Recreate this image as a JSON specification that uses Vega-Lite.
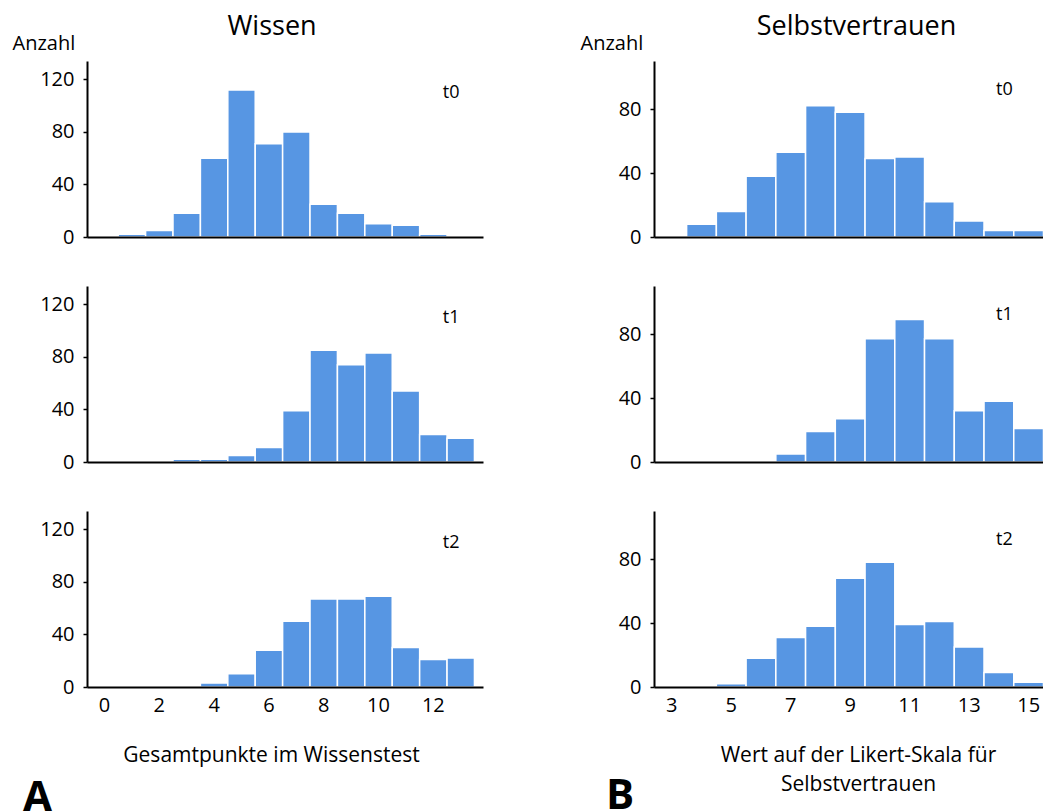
{
  "$schema": "https://vega.github.io/schema/vega-lite/v6.json",
  "autosize": {"type": "pad"},
  "padding": {"left": 12, "top": 13, "right": 0, "bottom": 0},
  "background": "white",
  "config": {
    "font": "Open Sans",
    "view": {"stroke": null},
    "axis": {"domainColor": "black", "domainWidth": 2, "labelColor": "black", "labelFontSize": 20, "labelFont": "Open Sans", "grid": false, "tickColor": "black", "tickWidth": 1.5, "zindex": 1, "titleColor": "black", "titleFont": "Open Sans", "titleFontWeight": "normal"},
    "title": {"font": "Open Sans", "fontWeight": "normal", "color": "black"},
    "text": {"font": "Open Sans", "color": "black"}
  },
  "datasets": {
    "hist": [
      {"var": "Wissen", "zeit": "t0", "wert": 1, "anzahl": 2},
      {"var": "Wissen", "zeit": "t0", "wert": 2, "anzahl": 5},
      {"var": "Wissen", "zeit": "t0", "wert": 3, "anzahl": 18},
      {"var": "Wissen", "zeit": "t0", "wert": 4, "anzahl": 60},
      {"var": "Wissen", "zeit": "t0", "wert": 5, "anzahl": 112},
      {"var": "Wissen", "zeit": "t0", "wert": 6, "anzahl": 71},
      {"var": "Wissen", "zeit": "t0", "wert": 7, "anzahl": 80},
      {"var": "Wissen", "zeit": "t0", "wert": 8, "anzahl": 25},
      {"var": "Wissen", "zeit": "t0", "wert": 9, "anzahl": 18},
      {"var": "Wissen", "zeit": "t0", "wert": 10, "anzahl": 10},
      {"var": "Wissen", "zeit": "t0", "wert": 11, "anzahl": 9},
      {"var": "Wissen", "zeit": "t0", "wert": 12, "anzahl": 2},
      {"var": "Wissen", "zeit": "t1", "wert": 3, "anzahl": 2},
      {"var": "Wissen", "zeit": "t1", "wert": 4, "anzahl": 2},
      {"var": "Wissen", "zeit": "t1", "wert": 5, "anzahl": 5},
      {"var": "Wissen", "zeit": "t1", "wert": 6, "anzahl": 11},
      {"var": "Wissen", "zeit": "t1", "wert": 7, "anzahl": 39},
      {"var": "Wissen", "zeit": "t1", "wert": 8, "anzahl": 85},
      {"var": "Wissen", "zeit": "t1", "wert": 9, "anzahl": 74},
      {"var": "Wissen", "zeit": "t1", "wert": 10, "anzahl": 83},
      {"var": "Wissen", "zeit": "t1", "wert": 11, "anzahl": 54},
      {"var": "Wissen", "zeit": "t1", "wert": 12, "anzahl": 21},
      {"var": "Wissen", "zeit": "t1", "wert": 13, "anzahl": 18},
      {"var": "Wissen", "zeit": "t2", "wert": 4, "anzahl": 3},
      {"var": "Wissen", "zeit": "t2", "wert": 5, "anzahl": 10},
      {"var": "Wissen", "zeit": "t2", "wert": 6, "anzahl": 28},
      {"var": "Wissen", "zeit": "t2", "wert": 7, "anzahl": 50},
      {"var": "Wissen", "zeit": "t2", "wert": 8, "anzahl": 67},
      {"var": "Wissen", "zeit": "t2", "wert": 9, "anzahl": 67},
      {"var": "Wissen", "zeit": "t2", "wert": 10, "anzahl": 69},
      {"var": "Wissen", "zeit": "t2", "wert": 11, "anzahl": 30},
      {"var": "Wissen", "zeit": "t2", "wert": 12, "anzahl": 21},
      {"var": "Wissen", "zeit": "t2", "wert": 13, "anzahl": 22},
      {"var": "Selbstvertrauen", "zeit": "t0", "wert": 4, "anzahl": 8},
      {"var": "Selbstvertrauen", "zeit": "t0", "wert": 5, "anzahl": 16},
      {"var": "Selbstvertrauen", "zeit": "t0", "wert": 6, "anzahl": 38},
      {"var": "Selbstvertrauen", "zeit": "t0", "wert": 7, "anzahl": 53},
      {"var": "Selbstvertrauen", "zeit": "t0", "wert": 8, "anzahl": 82},
      {"var": "Selbstvertrauen", "zeit": "t0", "wert": 9, "anzahl": 78},
      {"var": "Selbstvertrauen", "zeit": "t0", "wert": 10, "anzahl": 49},
      {"var": "Selbstvertrauen", "zeit": "t0", "wert": 11, "anzahl": 50},
      {"var": "Selbstvertrauen", "zeit": "t0", "wert": 12, "anzahl": 22},
      {"var": "Selbstvertrauen", "zeit": "t0", "wert": 13, "anzahl": 10},
      {"var": "Selbstvertrauen", "zeit": "t0", "wert": 14, "anzahl": 4},
      {"var": "Selbstvertrauen", "zeit": "t0", "wert": 15, "anzahl": 4},
      {"var": "Selbstvertrauen", "zeit": "t1", "wert": 3, "anzahl": 1},
      {"var": "Selbstvertrauen", "zeit": "t1", "wert": 6, "anzahl": 1},
      {"var": "Selbstvertrauen", "zeit": "t1", "wert": 7, "anzahl": 5},
      {"var": "Selbstvertrauen", "zeit": "t1", "wert": 8, "anzahl": 19},
      {"var": "Selbstvertrauen", "zeit": "t1", "wert": 9, "anzahl": 27},
      {"var": "Selbstvertrauen", "zeit": "t1", "wert": 10, "anzahl": 77},
      {"var": "Selbstvertrauen", "zeit": "t1", "wert": 11, "anzahl": 89},
      {"var": "Selbstvertrauen", "zeit": "t1", "wert": 12, "anzahl": 77},
      {"var": "Selbstvertrauen", "zeit": "t1", "wert": 13, "anzahl": 32},
      {"var": "Selbstvertrauen", "zeit": "t1", "wert": 14, "anzahl": 38},
      {"var": "Selbstvertrauen", "zeit": "t1", "wert": 15, "anzahl": 21},
      {"var": "Selbstvertrauen", "zeit": "t2", "wert": 3, "anzahl": 1},
      {"var": "Selbstvertrauen", "zeit": "t2", "wert": 4, "anzahl": 1},
      {"var": "Selbstvertrauen", "zeit": "t2", "wert": 5, "anzahl": 2},
      {"var": "Selbstvertrauen", "zeit": "t2", "wert": 6, "anzahl": 18},
      {"var": "Selbstvertrauen", "zeit": "t2", "wert": 7, "anzahl": 31},
      {"var": "Selbstvertrauen", "zeit": "t2", "wert": 8, "anzahl": 38},
      {"var": "Selbstvertrauen", "zeit": "t2", "wert": 9, "anzahl": 68},
      {"var": "Selbstvertrauen", "zeit": "t2", "wert": 10, "anzahl": 78},
      {"var": "Selbstvertrauen", "zeit": "t2", "wert": 11, "anzahl": 39},
      {"var": "Selbstvertrauen", "zeit": "t2", "wert": 12, "anzahl": 41},
      {"var": "Selbstvertrauen", "zeit": "t2", "wert": 13, "anzahl": 25},
      {"var": "Selbstvertrauen", "zeit": "t2", "wert": 14, "anzahl": 9},
      {"var": "Selbstvertrauen", "zeit": "t2", "wert": 15, "anzahl": 3}
    ]
  },
  "columns": 2,
  "spacing": {"row": 49, "column": 171},
  "bounds": "flush",
  "concat": [
    {
      "width": 396, "height": 176,
      "title": {"text": "Wissen", "fontSize": 27, "anchor": "middle", "frame": "group", "baseline": "alphabetic", "dx": -13, "dy": 33},
      "layer": [
        {
          "data": {"name": "hist"},
          "transform": [{"filter": "datum.var === 'Wissen' && datum.zeit === 't0'"}],
          "mark": {"type": "bar", "binSpacing": 0, "fill": "#5796e3", "stroke": "#ffffff", "strokeWidth": 1.5},
          "encoding": {
            "x": {"field": "wert", "type": "quantitative", "bin": {"step": 1, "anchor": 0.5, "extent": [-0.5, 13.5], "nice": false}, "scale": {"domain": [-0.62, 13.83], "nice": false, "zero": false}, "axis": {"labels": false, "ticks": false, "title": null, "zindex": 2}},
            "y": {"field": "anzahl", "type": "quantitative", "scale": {"domain": [0, 134], "nice": false}, "axis": {"values": [0, 40, 80, 120], "tickSize": 4, "labelPadding": 9, "zindex": 2, "title": "Anzahl", "titleAngle": 0, "titleAlign": "left", "titleBaseline": "alphabetic", "titleX": -75, "titleY": -12, "titleFontSize": 20}}
          }
        },
        {
          "data": {"values": [{"label": "t0"}]},
          "mark": {"type": "text", "fontSize": 18, "align": "center", "baseline": "middle"},
          "encoding": {"x": {"datum": 12.67}, "y": {"datum": 110}, "text": {"field": "label"}}
        }
      ]
    },
    {
      "width": 389, "height": 176,
      "title": {"text": "Selbstvertrauen", "fontSize": 27, "anchor": "middle", "frame": "group", "baseline": "alphabetic", "dx": 8, "dy": 33},
      "layer": [
        {
          "data": {"name": "hist"},
          "transform": [{"filter": "datum.var === 'Selbstvertrauen' && datum.zeit === 't0'"}],
          "mark": {"type": "bar", "binSpacing": 0, "fill": "#5796e3", "stroke": "#ffffff", "strokeWidth": 1.5},
          "encoding": {
            "x": {"field": "wert", "type": "quantitative", "bin": {"step": 1, "anchor": 0.5, "extent": [2.5, 15.5], "nice": false}, "scale": {"domain": [2.42, 15.5], "nice": false, "zero": false}, "axis": {"labels": false, "ticks": false, "title": null, "zindex": 2}},
            "y": {"field": "anzahl", "type": "quantitative", "scale": {"domain": [0, 110], "nice": false}, "axis": {"values": [0, 40, 80], "tickSize": 4, "labelPadding": 9, "zindex": 2, "title": "Anzahl", "titleAngle": 0, "titleAlign": "left", "titleBaseline": "alphabetic", "titleX": -74, "titleY": -12, "titleFontSize": 20}}
          }
        },
        {
          "data": {"values": [{"label": "t0"}]},
          "mark": {"type": "text", "fontSize": 18, "align": "center", "baseline": "middle"},
          "encoding": {"x": {"datum": 14.2}, "y": {"datum": 92}, "text": {"field": "label"}}
        }
      ]
    },
    {
      "width": 396, "height": 176,
      "layer": [
        {
          "data": {"name": "hist"},
          "transform": [{"filter": "datum.var === 'Wissen' && datum.zeit === 't1'"}],
          "mark": {"type": "bar", "binSpacing": 0, "fill": "#5796e3", "stroke": "#ffffff", "strokeWidth": 1.5},
          "encoding": {
            "x": {"field": "wert", "type": "quantitative", "bin": {"step": 1, "anchor": 0.5, "extent": [-0.5, 13.5], "nice": false}, "scale": {"domain": [-0.62, 13.83], "nice": false, "zero": false}, "axis": {"labels": false, "ticks": false, "title": null, "zindex": 2}},
            "y": {"field": "anzahl", "type": "quantitative", "scale": {"domain": [0, 134], "nice": false}, "axis": {"values": [0, 40, 80, 120], "tickSize": 4, "labelPadding": 9, "zindex": 2, "title": null}}
          }
        },
        {
          "data": {"values": [{"label": "t1"}]},
          "mark": {"type": "text", "fontSize": 18, "align": "center", "baseline": "middle"},
          "encoding": {"x": {"datum": 12.67}, "y": {"datum": 110}, "text": {"field": "label"}}
        }
      ]
    },
    {
      "width": 389, "height": 176,
      "layer": [
        {
          "data": {"name": "hist"},
          "transform": [{"filter": "datum.var === 'Selbstvertrauen' && datum.zeit === 't1'"}],
          "mark": {"type": "bar", "binSpacing": 0, "fill": "#5796e3", "stroke": "#ffffff", "strokeWidth": 1.5},
          "encoding": {
            "x": {"field": "wert", "type": "quantitative", "bin": {"step": 1, "anchor": 0.5, "extent": [2.5, 15.5], "nice": false}, "scale": {"domain": [2.42, 15.5], "nice": false, "zero": false}, "axis": {"labels": false, "ticks": false, "title": null, "zindex": 2}},
            "y": {"field": "anzahl", "type": "quantitative", "scale": {"domain": [0, 110], "nice": false}, "axis": {"values": [0, 40, 80], "tickSize": 4, "labelPadding": 9, "zindex": 2, "title": null}}
          }
        },
        {
          "data": {"values": [{"label": "t1"}]},
          "mark": {"type": "text", "fontSize": 18, "align": "center", "baseline": "middle"},
          "encoding": {"x": {"datum": 14.2}, "y": {"datum": 92}, "text": {"field": "label"}}
        }
      ]
    },
    {
      "width": 396, "height": 176,
      "title": {"text": "A", "orient": "bottom", "anchor": "start", "frame": "group", "fontSize": 42, "fontWeight": "bold", "baseline": "alphabetic", "dx": -64, "dy": 42},
      "layer": [
        {
          "data": {"name": "hist"},
          "transform": [{"filter": "datum.var === 'Wissen' && datum.zeit === 't2'"}],
          "mark": {"type": "bar", "binSpacing": 0, "fill": "#5796e3", "stroke": "#ffffff", "strokeWidth": 1.5},
          "encoding": {
            "x": {"field": "wert", "type": "quantitative", "bin": {"step": 1, "anchor": 0.5, "extent": [-0.5, 13.5], "nice": false}, "scale": {"domain": [-0.62, 13.83], "nice": false, "zero": false}, "axis": {"values": [0, 2, 4, 6, 8, 10, 12], "ticks": false, "zindex": 2, "labelPadding": 8, "labelFlush": false, "labelOverlap": false, "title": "Gesamtpunkte im Wissenstest", "titleFontSize": 21, "titleX": 184, "titleY": 74, "titleBaseline": "alphabetic", "titleAlign": "center", "titleAnchor": null}},
            "y": {"field": "anzahl", "type": "quantitative", "scale": {"domain": [0, 134], "nice": false}, "axis": {"values": [0, 40, 80, 120], "tickSize": 4, "labelPadding": 9, "zindex": 2, "title": null}}
          }
        },
        {
          "data": {"values": [{"label": "t2"}]},
          "mark": {"type": "text", "fontSize": 18, "align": "center", "baseline": "middle"},
          "encoding": {"x": {"datum": 12.67}, "y": {"datum": 110}, "text": {"field": "label"}}
        }
      ]
    },
    {
      "width": 389, "height": 176,
      "title": {"text": "B", "orient": "bottom", "anchor": "start", "frame": "group", "fontSize": 42, "fontWeight": "bold", "baseline": "alphabetic", "dx": -48, "dy": 11},
      "layer": [
        {
          "data": {"name": "hist"},
          "transform": [{"filter": "datum.var === 'Selbstvertrauen' && datum.zeit === 't2'"}],
          "mark": {"type": "bar", "binSpacing": 0, "fill": "#5796e3", "stroke": "#ffffff", "strokeWidth": 1.5},
          "encoding": {
            "x": {"field": "wert", "type": "quantitative", "bin": {"step": 1, "anchor": 0.5, "extent": [2.5, 15.5], "nice": false}, "scale": {"domain": [2.42, 15.5], "nice": false, "zero": false}, "axis": {"values": [3, 5, 7, 9, 11, 13, 15], "ticks": false, "zindex": 2, "labelPadding": 8, "labelFlush": false, "labelOverlap": false, "title": ["Wert auf der Likert-Skala für", "Selbstvertrauen"], "titleFontSize": 21, "titleLineHeight": 29, "titleX": 204, "titleY": 74, "titleBaseline": "alphabetic", "titleAlign": "center", "titleAnchor": null}},
            "y": {"field": "anzahl", "type": "quantitative", "scale": {"domain": [0, 110], "nice": false}, "axis": {"values": [0, 40, 80], "tickSize": 4, "labelPadding": 9, "zindex": 2, "title": null}}
          }
        },
        {
          "data": {"values": [{"label": "t2"}]},
          "mark": {"type": "text", "fontSize": 18, "align": "center", "baseline": "middle"},
          "encoding": {"x": {"datum": 14.2}, "y": {"datum": 92}, "text": {"field": "label"}}
        }
      ]
    }
  ]
}
